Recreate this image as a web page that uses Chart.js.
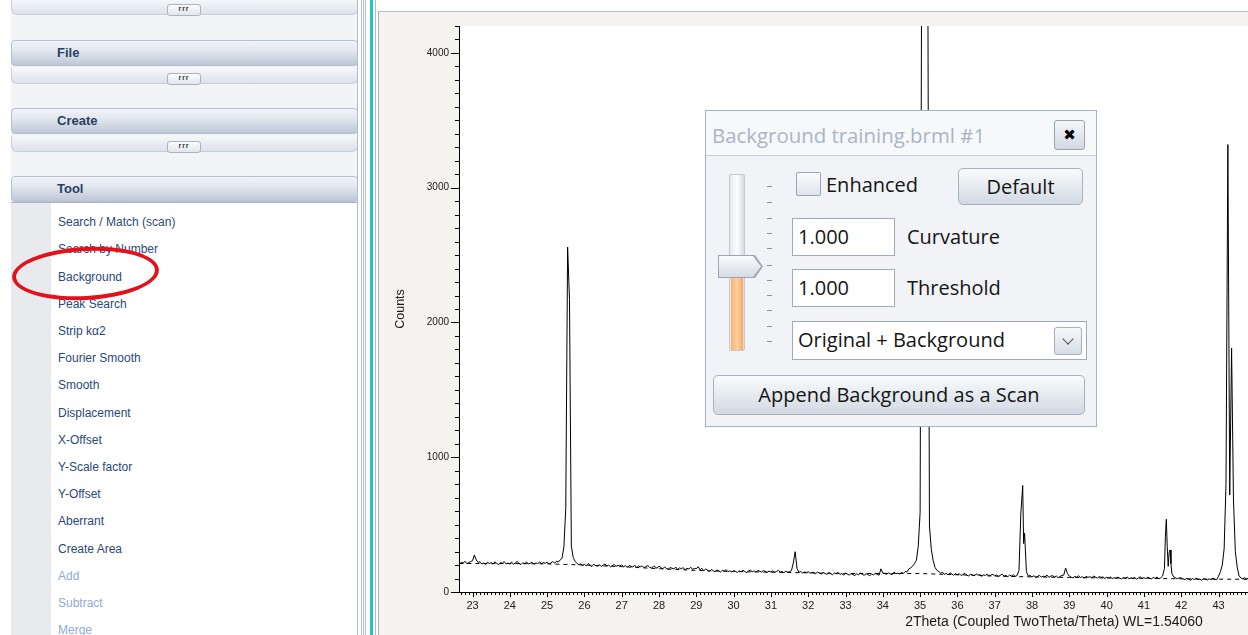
<!DOCTYPE html>
<html>
<head>
<meta charset="utf-8">
<title>Background</title>
<script src="https://cdn.jsdelivr.net/npm/chart.js@4.4.1/dist/chart.umd.min.js"></script>
<style>
  html, body { margin:0; padding:0; width:1248px; height:635px; overflow:hidden; background:#fff; font-family:"Liberation Sans", Arial, sans-serif; }
  .a { position:absolute; }
  #side { left:11px; top:0; width:347px; height:635px; background:#f3f4f7; }
  .bar { position:absolute; left:11px; width:347px; height:26px; box-sizing:border-box; border:1px solid #b4c0d1; border-radius:4px; background:linear-gradient(#f2f4f8, #e2e7ee 40%, #bcc7d7); }
  .bar b { position:absolute; left:45px; top:4px; line-height:16px; font-size:13px; color:#2b3f66; }
  .strip { position:absolute; left:11px; width:347px; height:16px; box-sizing:border-box; border:1px solid #c7cfda; border-top:none; border-radius:0 0 6px 6px; background:linear-gradient(#f6f7fa, #dde2ea); }
  .grip { position:absolute; left:155px; top:5px; width:34px; height:12px; box-sizing:border-box; border:1px solid #a9b3c1; border-radius:3px; background:linear-gradient(#fdfdfe, #e1e5eb); font-size:7px; line-height:8px; text-align:center; color:#333; font-weight:bold; letter-spacing:1px; }
  #list { left:11px; top:202px; width:346px; height:433px; background:#fff; border-top:1px solid #a7b4c6; }
  #gutter { left:11px; top:203px; width:40px; height:432px; background:#e9eaee; }
  .item { position:absolute; left:58px; font-size:12px; line-height:14px; color:#29497b; white-space:nowrap; }
  .off { color:#8eabdb; }
  .vl { position:absolute; top:0; height:635px; width:1px; background:#b3bccb; }
  #ring { left:12px; top:247px; width:147px; height:53px; box-sizing:border-box; border:4px solid #e4111b; border-radius:50%; transform:rotate(-3deg); }
  #panel { left:378px; top:11px; width:870px; height:624px; border-left:1px solid #a4b3c7; border-top:1px solid #aebdcf; background:#f4f3f0; }
  #wrap { left:379px; top:12px; width:1270px; height:623px; }
  #dlg { left:705px; top:110px; width:392px; height:317px; box-sizing:border-box; border:1px solid #a3b2c6; background:#f1f3f6; font-family:"Open Sans", sans-serif; font-size:20px; color:#151515; }
  #dlg .hd { position:absolute; left:0; top:0; width:390px; height:44px; background:#f7f8fa; border-bottom:1px solid #c8d2de; }
  #dlg .ttl { position:absolute; left:6px; top:10px; line-height:28px; font-size:20.4px; color:#a9b5c5; white-space:nowrap; }
  #dlg .x { position:absolute; left:348px; top:9px; width:31px; height:30px; box-sizing:border-box; border:1px solid #95a3b7; border-radius:3px; background:linear-gradient(#f4f6f8, #d3d9e2); font-family:"DejaVu Sans", sans-serif; font-size:15px; line-height:28px; text-align:center; color:#000; }
  #dlg .lbl { position:absolute; line-height:28px; white-space:nowrap; }
  #dlg .btn { position:absolute; box-sizing:border-box; border:1px solid #a7b2c1; border-radius:5px; background:linear-gradient(#fbfbfc, #e8ecf1 45%, #d2d9e3); text-align:center; white-space:nowrap; }
  #dlg .box { position:absolute; left:86px; width:103px; height:38px; box-sizing:border-box; border:1px solid #a0abb9; background:#fff; padding-left:5px; line-height:36px; white-space:nowrap; }
  #dlg .chk { position:absolute; left:90px; top:61px; width:25px; height:24px; box-sizing:border-box; border:1px solid #9aa6b5; border-radius:2px; background:linear-gradient(#f9fafb, #e1e5eb); }
  #dlg .track { position:absolute; left:23px; top:63px; width:16px; height:177px; box-sizing:border-box; border:1px solid #c3cad4; border-radius:2px; background:linear-gradient(90deg, #e6e9ee, #fdfdfe 50%, #d6dbe3); }
  #dlg .fill { position:absolute; left:1px; top:103px; width:12px; height:72px; background:linear-gradient(90deg, #f9b46c, #fdd0a0 50%, #f6ab5e); }
  #dlg .thumb { position:absolute; left:12px; top:144px; width:45px; height:23px; background:#9aa6b4; clip-path:polygon(0 0, 82% 0, 100% 50%, 82% 100%, 0 100%); }
  #dlg .thumb div { position:absolute; left:1px; top:1px; width:42px; height:21px; background:linear-gradient(#fafbfc, #d6dce4); clip-path:polygon(0 0, 81% 0, 100% 50%, 81% 100%, 0 100%); }
  #dlg .dash { position:absolute; left:61px; width:5px; height:1px; background:#88909b; }
  #dlg .dd { position:absolute; left:348px; top:216px; width:28px; height:28px; box-sizing:border-box; border:1px solid #a5b0bf; border-radius:3px; background:linear-gradient(#f7f8fa, #d7dde6); }
  #dlg .dd i { position:absolute; left:9px; top:7px; width:7px; height:7px; border-right:1.5px solid #555; border-bottom:1.5px solid #555; transform:rotate(45deg); }
</style>
</head>
<body>
<div id="side" class="a"></div>
<div class="strip" style="top:-1px"><div class="grip">rrr</div></div>
<div class="bar" style="top:40px"><b>File</b></div>
<div class="strip" style="top:68px"><div class="grip">rrr</div></div>
<div class="bar" style="top:108px"><b>Create</b></div>
<div class="strip" style="top:136px"><div class="grip">rrr</div></div>
<div class="bar" style="top:176px"><b>Tool</b></div>
<div id="list" class="a"></div>
<div id="gutter" class="a"></div>
<div class="item" style="top:215px">Search / Match (scan)</div>
<div class="item" style="top:242px">Search by Number</div>
<div class="item" style="top:270px">Background</div>
<div class="item" style="top:297px">Peak Search</div>
<div class="item" style="top:324px">Strip kα2</div>
<div class="item" style="top:351px">Fourier Smooth</div>
<div class="item" style="top:378px">Smooth</div>
<div class="item" style="top:406px">Displacement</div>
<div class="item" style="top:433px">X-Offset</div>
<div class="item" style="top:460px">Y-Scale factor</div>
<div class="item" style="top:487px">Y-Offset</div>
<div class="item" style="top:514px">Aberrant</div>
<div class="item" style="top:542px">Create Area</div>
<div class="item off" style="top:569px">Add</div>
<div class="item off" style="top:596px">Subtract</div>
<div class="item off" style="top:623px">Merge</div>
<div id="ring" class="a"></div>
<div class="vl" style="left:357px"></div>
<div class="vl" style="left:361px"></div>
<div class="vl" style="left:363px"></div>
<div class="vl" style="left:365px"></div>
<div class="vl" style="left:370px;width:3px;background:#24c5c6"></div>
<div class="vl" style="left:375px"></div>
<div id="panel" class="a"></div>
<div id="wrap" class="a"><canvas id="scan" width="1270" height="623"></canvas></div>

<div id="dlg" class="a">
  <div class="hd"></div>
  <div class="ttl">Background training.brml #1</div>
  <div class="x">✖</div>
  <div class="track"><div class="fill"></div></div>
  <div class="dash" style="top:75px"></div>
  <div class="dash" style="top:91px"></div>
  <div class="dash" style="top:107px"></div>
  <div class="dash" style="top:122px"></div>
  <div class="dash" style="top:137px"></div>
  <div class="dash" style="top:154px"></div>
  <div class="dash" style="top:169px"></div>
  <div class="dash" style="top:184px"></div>
  <div class="dash" style="top:199px"></div>
  <div class="dash" style="top:215px"></div>
  <div class="dash" style="top:230px"></div>
  <div class="thumb"><div></div></div>
  <div class="chk"></div>
  <div class="lbl" style="left:120px;top:60px">Enhanced</div>
  <div class="btn" style="left:252px;top:57px;width:125px;height:37px;line-height:35px">Default</div>
  <div class="box" style="top:107px">1.000</div>
  <div class="lbl" style="left:201px;top:112px">Curvature</div>
  <div class="box" style="top:158px">1.000</div>
  <div class="lbl" style="left:201px;top:163px">Threshold</div>
  <div class="box" style="top:210px;width:295px;height:39px">Original + Background</div>
  <div class="dd"><i></i></div>
  <div class="btn" style="left:7px;top:264px;width:372px;height:40px;line-height:38px">Append Background as a Scan</div>
</div>

<script>
// scan: 2Theta positions and counts
const twoTheta = [
  22.65,22.7,22.75,22.8,22.85,22.9,22.95,
  23,23.05,23.1,23.15,23.2,23.25,23.3,23.35,23.4,23.45,23.5,23.55,23.6,23.65,23.7,23.75,23.8,23.85,23.9,23.95,
  24,24.05,24.1,24.15,24.2,24.25,24.3,24.35,24.4,24.45,24.5,24.55,24.6,24.65,24.7,24.75,24.8,24.85,24.9,24.95,
  25,25.05,25.1,25.15,25.2,25.25,25.3,25.35,25.4,25.45,25.5,25.55,25.6,25.65,25.7,25.75,25.8,25.85,25.9,25.95,
  26,26.05,26.1,26.15,26.2,26.25,26.3,26.35,26.4,26.45,26.5,26.55,26.6,26.65,26.7,26.75,26.8,26.85,26.9,26.95,
  27,27.05,27.1,27.15,27.2,27.25,27.3,27.35,27.4,27.45,27.5,27.55,27.6,27.65,27.7,27.75,27.8,27.85,27.9,27.95,
  28,28.05,28.1,28.15,28.2,28.25,28.3,28.35,28.4,28.45,28.5,28.55,28.6,28.65,28.7,28.75,28.8,28.85,28.9,28.95,
  29,29.05,29.1,29.15,29.2,29.25,29.3,29.35,29.4,29.45,29.5,29.55,29.6,29.65,29.7,29.75,29.8,29.85,29.9,29.95,
  30,30.05,30.1,30.15,30.2,30.25,30.3,30.35,30.4,30.45,30.5,30.55,30.6,30.65,30.7,30.75,30.8,30.85,30.9,30.95,
  31,31.05,31.1,31.15,31.2,31.25,31.3,31.35,31.4,31.45,31.5,31.55,31.6,31.65,31.7,31.75,31.8,31.85,31.9,31.95,
  32,32.05,32.1,32.15,32.2,32.25,32.3,32.35,32.4,32.45,32.5,32.55,32.6,32.65,32.7,32.75,32.8,32.85,32.9,32.95,
  33,33.05,33.1,33.15,33.2,33.25,33.3,33.35,33.4,33.45,33.5,33.55,33.6,33.65,33.7,33.75,33.8,33.85,33.9,33.95,
  34,34.05,34.1,34.15,34.2,34.25,34.3,34.35,34.4,34.45,34.5,34.55,34.6,34.65,34.7,34.75,34.8,34.85,34.9,34.95,
  35,35.05,35.1,35.15,35.2,35.25,35.3,35.35,35.4,35.45,35.5,35.55,35.6,35.65,35.7,35.75,35.8,35.85,35.9,35.95,
  36,36.05,36.1,36.15,36.2,36.25,36.3,36.35,36.4,36.45,36.5,36.55,36.6,36.65,36.7,36.75,36.8,36.85,36.9,36.95,
  37,37.05,37.1,37.15,37.2,37.25,37.3,37.35,37.4,37.45,37.5,37.55,37.6,37.65,37.7,37.75,37.775,37.8,37.85,37.9,37.95,
  38,38.05,38.1,38.15,38.2,38.25,38.3,38.35,38.4,38.45,38.5,38.55,38.6,38.65,38.7,38.75,38.8,38.85,38.9,38.95,
  39,39.05,39.1,39.15,39.2,39.25,39.3,39.35,39.4,39.45,39.5,39.55,39.6,39.65,39.7,39.75,39.8,39.85,39.9,39.95,
  40,40.05,40.1,40.15,40.2,40.25,40.3,40.35,40.4,40.45,40.5,40.55,40.6,40.65,40.7,40.75,40.8,40.85,40.9,40.95,
  41,41.05,41.1,41.15,41.2,41.25,41.3,41.35,41.4,41.45,41.5,41.55,41.575,41.6,41.625,41.65,41.675,41.7,41.725,41.75,41.8,41.85,41.9,41.95,
  42,42.05,42.1,42.15,42.2,42.25,42.3,42.35,42.4,42.45,42.5,42.55,42.6,42.65,42.7,42.75,42.8,42.85,42.9,42.95,
  43,43.05,43.1,43.15,43.2,43.25,43.3,43.35,43.4,43.45,43.5,43.55,43.6,43.65,43.7,43.75,43.8,43.85,43.9,43.95
];
const counts = [
  205,222,214,228,210,219,226,
  232,275,238,219,225,207,216,203,221,211,218,206,224,212,203,219,213,226,208,215,
  209,222,205,217,227,212,204,218,210,223,207,214,220,206,216,211,224,209,219,213,
  221,208,216,226,214,229,222,238,250,335,620,2560,2170,340,255,228,212,203,209,196,
  205,194,211,199,188,206,197,192,203,189,198,208,193,200,187,196,204,190,199,193,
  201,188,195,183,197,190,186,199,181,192,187,194,180,189,196,183,178,191,185,176,
  193,180,172,186,174,169,182,176,171,185,167,178,173,181,165,176,170,184,168,175,
  172,188,164,176,158,170,162,152,166,159,150,163,157,148,161,155,166,151,158,147,
  160,153,145,158,149,162,151,144,156,163,150,157,146,161,154,148,159,152,145,155,
  149,157,146,153,160,148,152,143,155,147,151,158,215,299,175,146,152,141,149,144,
  150,139,146,142,136,148,140,133,145,138,131,143,136,128,141,134,146,130,137,125,
  139,132,126,137,129,122,135,128,140,131,124,136,129,121,133,127,138,130,125,172,
  140,137,131,142,134,129,147,136,140,133,145,138,152,149,172,180,192,210,236,340,
  590,5600,7000,6800,5200,490,315,232,182,161,152,139,147,131,138,127,142,133,125,136,
  128,136,122,131,139,125,118,133,127,121,135,124,130,117,128,122,134,119,126,131,
  120,127,115,124,132,118,123,113,126,119,128,116,122,160,585,790,360,437,150,118,123,
  112,121,108,116,124,110,118,113,126,109,117,122,111,119,106,115,123,125,178,138,
  118,110,104,116,109,121,107,113,102,117,108,114,105,119,111,103,115,108,112,101,
  109,104,112,99,106,101,110,103,97,107,102,111,98,105,100,108,96,104,113,101,
  106,99,110,103,97,108,101,112,98,105,118,175,410,540,336,190,290,312,210,135,112,104,98,106,
  104,97,92,101,95,88,99,93,102,90,96,87,100,94,89,98,92,103,95,91,
  118,150,200,320,800,3320,720,1810,690,300,185,120,104,99,105,97,102,96,100,98
];
// fitted background (dashed)
const backgroundTheta = [22.65,24,25,26,27,28,29,30,31,32,33,34,35,36,37,38,39,40,41,42,43,44];
const backgroundCounts = [212,211,209,200,188,173,160,152,147,142,137,138,137,128,118,112,108,104,101,98,95,95];
// labelled ticks
const countLabels = [0, 1000, 2000, 3000, 4000];
const angleLabels = [23,24,25,26,27,28,29,30,31,32,33,34,35,36,37,38,39,40,41,42,43,44,45,46,47,48,49,50,51,52,53,54];

const xMin = 22.638, xMax = 54.54;

Chart.defaults.font.family = '"Liberation Sans", Arial, sans-serif';

// grey frame around a white plot
const panelColors = {
  id: 'panelColors',
  beforeDraw(chart) {
    const { ctx, chartArea: a, width, height } = chart;
    ctx.save();
    ctx.fillStyle = '#f4f3f0';
    ctx.fillRect(0, 0, width, height);
    ctx.fillStyle = '#fff';
    ctx.fillRect(a.left, a.top, a.right - a.left, a.bottom - a.top);
    ctx.restore();
  }
};

// long ticks on labelled values, short ones in between
const tickMarks = {
  id: 'tickMarks',
  afterDraw(chart) {
    const { ctx } = chart;
    const x = chart.scales.x, y = chart.scales.y;
    ctx.save();
    ctx.strokeStyle = '#000';
    ctx.lineWidth = 1;
    ctx.beginPath();
    x.ticks.forEach(t => {
      const px = Math.round(x.getPixelForValue(t.value)) + 0.5;
      const len = angleLabels.includes(t.value) ? 5 : 3;
      ctx.moveTo(px, x.top);
      ctx.lineTo(px, x.top + len);
    });
    y.ticks.forEach(t => {
      const py = Math.round(y.getPixelForValue(t.value)) + 0.5;
      const len = countLabels.includes(t.value) ? 8 : 4;
      ctx.moveTo(y.right, py);
      ctx.lineTo(y.right - len, py);
    });
    ctx.stroke();
    ctx.restore();
  }
};

new Chart(document.getElementById('scan'), {
  type: 'line',
  data: {
    datasets: [
      {
        label: 'Scan',
        data: counts.map((c, i) => ({ x: twoTheta[i], y: c })),
        borderColor: '#000',
        borderWidth: 1,
        pointRadius: 0,
        tension: 0
      },
      {
        label: 'Background',
        data: backgroundCounts.map((c, i) => ({ x: backgroundTheta[i], y: c })),
        borderColor: '#000',
        borderWidth: 1,
        borderDash: [4, 4],
        pointRadius: 0,
        tension: 0
      }
    ]
  },
  options: {
    responsive: false,
    animation: false,
    events: [],
    layout: { padding: { top: 14, left: 0, right: 0, bottom: 0 } },
    plugins: { legend: { display: false }, tooltip: { enabled: false } },
    scales: {
      x: {
        type: 'linear',
        min: xMin,
        max: xMax,
        afterFit(s) { s.height = 43; },
        grid: { drawOnChartArea: false, tickLength: 6, color: 'transparent', tickColor: 'transparent' },
        border: { display: true, color: '#000', width: 1 },
        ticks: {
          stepSize: 0.1,
          autoSkip: false,
          maxRotation: 0,
          includeBounds: false,
          padding: 1,
          color: '#1a1a1a',
          font: { size: 11 },
          callback: v => angleLabels.includes(v) ? String(v) : ''
        },
        title: {
          display: true,
          text: '2Theta (Coupled TwoTheta/Theta) WL=1.54060',
          color: '#1a1a1a',
          font: { size: 14 },
          padding: { top: 0, bottom: 4 }
        }
      },
      y: {
        min: 0,
        max: 4200,
        afterFit(s) { s.width = 80; },
        grid: { drawOnChartArea: false, tickLength: 8, color: 'transparent', tickColor: 'transparent' },
        border: { display: true, color: '#000', width: 1 },
        ticks: {
          stepSize: 100,
          autoSkip: false,
          padding: 2,
          color: '#1a1a1a',
          font: { size: 10 },
          callback: v => countLabels.includes(v) ? String(v) : ''
        },
        title: {
          display: true,
          text: 'Counts',
          color: '#1a1a1a',
          font: { size: 12.5 },
          padding: { top: 14.5, bottom: 0 }
        }
      }
    }
  },
  plugins: [panelColors, tickMarks]
});
</script>
</body>
</html>
